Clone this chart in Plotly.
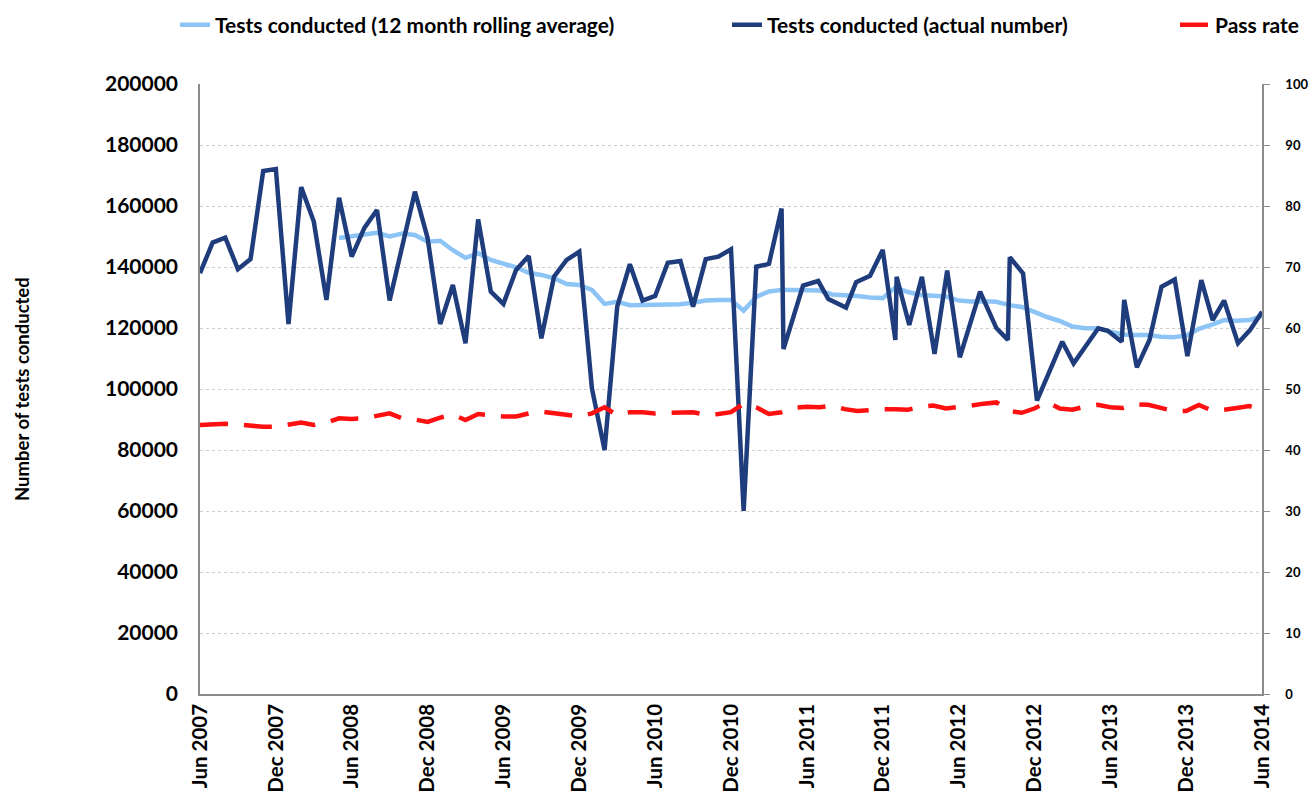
import plotly.graph_objects as go

# ---------------- data ----------------
tick_months = [0, 6, 12, 18, 24, 30, 36, 42, 48, 54, 60, 66, 72, 78, 84]
tick_labels = ["Jun 2007", "Dec 2007", "Jun 2008", "Dec 2008", "Jun 2009",
               "Dec 2009", "Jun 2010", "Dec 2010", "Jun 2011", "Dec 2011",
               "Jun 2012", "Dec 2012", "Jun 2013", "Dec 2013", "Jun 2014"]

# actual number of tests (months after Jun 2007)
actual_month = [0, 1, 2, 3, 4, 5, 6, 7, 8, 9,
                10, 11, 12, 13, 14, 15, 17, 18, 19, 20,
                21, 22, 23, 24, 25, 26, 27, 28, 29, 30,
                31, 32, 33, 34, 35, 36, 37, 38, 39, 40,
                41, 42, 43, 44, 45, 46, 46.15, 47.7, 48.9, 49.7,
                51.1, 51.9, 53.0, 54.0, 55.0, 55.1, 56.1, 57.1, 58.1, 59.1,
                60.1, 61.7, 63.0, 63.9, 64.05, 65.1, 66.2, 68.2, 69.1, 71.05,
                71.8, 72.9, 73.1, 74.1, 75.1, 76.05, 77.1, 78.1, 79.2, 80.1,
                81.0, 82.1, 83.05, 84.0]
actual_tests = [138000, 148000, 149600, 139300, 142600, 171500, 172100, 121300, 166200, 154900,
                129200, 162700, 143400, 152800, 158700, 129000, 164700, 149500, 121300, 134100,
                115000, 155600, 131900, 127900, 139000, 143600, 116600, 136800, 142300, 145000,
                100200, 80000, 127000, 140900, 129000, 130500, 141400, 142000, 127000, 142600,
                143400, 145800, 60000, 140100, 141000, 159200, 113100, 133900, 135400, 129500,
                126700, 135000, 137100, 145600, 116100, 136800, 121000, 136800, 111500, 138800,
                110400, 131900, 119900, 116100, 143200, 137900, 96200, 115500, 108400, 119900,
                119100, 115500, 129200, 107100, 116100, 133500, 135900, 110800, 135700, 122600,
                129000, 115000, 119300, 125300]

# 12 month rolling average (months 11..84)
rolling_month = list(range(11, 85))
rolling_tests = [149500, 150000, 150500, 151200, 150000, 151000, 150500, 148300, 148600, 145500,
                 143000, 144500, 142300, 141200, 139900, 138100, 137400, 136300, 134400, 134100,
                 132500, 127900, 128600, 127500, 127500, 127500, 127700, 127800, 128300, 129000,
                 129200, 129200, 125700, 130200, 132000, 132500, 132500, 132400, 132300, 131000,
                 130800, 130500, 130000, 129800, 133300, 131800, 130800, 130400, 130300, 129000,
                 128700, 128800, 128600, 127500, 126900, 125300, 123600, 122300, 120500, 119900,
                 119900, 118800, 117900, 117700, 117700, 117100, 117000, 117500, 119700, 121000,
                 122600, 122400, 122600, 123900]

# pass rate (%) months 0..84
pass_month = list(range(0, 85))
pass_rate = [44.1, 44.2, 44.3, 44.2, 44.0, 43.8, 43.8, 44.1, 44.5, 44.1,
             44.5, 45.2, 45.1, 45.2, 45.6, 46.0, 45.2, 45.0, 44.6, 45.3,
             45.8, 44.9, 45.9, 45.7, 45.5, 45.5, 46.0, 46.3, 46.0, 45.7,
             45.5, 46.0, 47.0, 45.7, 46.2, 46.2, 46.0, 46.1, 46.1, 46.2,
             45.8, 45.9, 46.2, 47.6, 47.0, 45.9, 46.2, 46.9, 47.1, 47.0,
             47.3, 46.7, 46.4, 46.6, 46.7, 46.7, 46.6, 47.1, 47.3, 46.8,
             47.0, 47.3, 47.6, 47.8, 46.4, 46.1, 46.8, 47.9, 46.8, 46.6,
             47.1, 47.4, 47.0, 46.9, 47.5, 47.4, 46.9, 46.4, 46.4, 47.4,
             46.5, 46.6, 46.9, 47.2, 46.5]

# ---------------- figure ----------------
FONT = "Lato"
LIGHT = "#8DC4F6"
DARK = "#1F3D7C"
RED = "#FF0F0F"

fig = go.Figure()
fig.add_trace(go.Scatter(x=rolling_month, y=rolling_tests, mode="lines",
                         name="Tests conducted (12 month rolling average)",
                         line=dict(color=LIGHT, width=4.5), legend="legend"))
fig.add_trace(go.Scatter(x=actual_month, y=actual_tests, mode="lines",
                         name="Tests conducted (actual number)",
                         line=dict(color=DARK, width=4.5), legend="legend2"))
fig.add_trace(go.Scatter(x=pass_month, y=pass_rate, mode="lines", yaxis="y2",
                         name="Pass rate",
                         line=dict(color=RED, width=4.5, dash="28px,16px"), legend="legend3"))

def px_x(px):
    return (px - 200) / 1062.0

legend_common = dict(orientation="h", yref="container", yanchor="middle", y=1 - 25 / 802.0,
                     xanchor="left", bgcolor="rgba(0,0,0,0)",
                     font=dict(family=FONT, size=21, color="black", weight="bold"))

fig.update_layout(
    width=1312, height=802, autosize=False,
    margin=dict(l=200, r=50, t=84, b=108),
    paper_bgcolor="white", plot_bgcolor="white",
    font=dict(family=FONT, color="black"),
    showlegend=True,
    legend=dict(x=px_x(175), **legend_common),
    legend2=dict(x=px_x(727), **legend_common),
    legend3=dict(x=px_x(1175), **legend_common),
    xaxis=dict(range=[0, 84], tickmode="array", tickvals=tick_months, ticktext=tick_labels,
               tickangle=-90, showgrid=False, zeroline=False, showline=True,
               linecolor="#8C8C8C", linewidth=1.5, ticks="", automargin=False,
               tickfont=dict(family=FONT, size=20.5, color="black", weight="bold")),
    yaxis=dict(range=[0, 200000], dtick=20000, tickformat="d", showgrid=True,
               gridcolor="#CDCDCD", griddash="dot", gridwidth=1, zeroline=False,
               showline=True, linecolor="#8C8C8C", linewidth=1.5, ticks="",
               ticklabelstandoff=16, automargin=False,
               tickfont=dict(family=FONT, size=21, color="black", weight="bold")),
    yaxis2=dict(range=[0, 100], dtick=10, overlaying="y", side="right", showgrid=False,
                zeroline=False, showline=True, linecolor="#8C8C8C", linewidth=1.5,
                ticks="outside", ticklen=6, tickcolor="#8C8C8C", ticklabelstandoff=13,
                automargin=False,
                tickfont=dict(family=FONT, size=13, color="black", weight="bold")),
    annotations=[dict(text="Number of tests conducted", xref="paper", yref="paper",
                      x=px_x(22), y=0.5, textangle=-90, showarrow=False,
                      xanchor="center", yanchor="middle",
                      font=dict(family=FONT, size=18.5, color="black", weight="bold"))],
)

fig.write_html("out.html", config={"displayModeBar": False},
               post_script="document.body.style.margin='0';")
